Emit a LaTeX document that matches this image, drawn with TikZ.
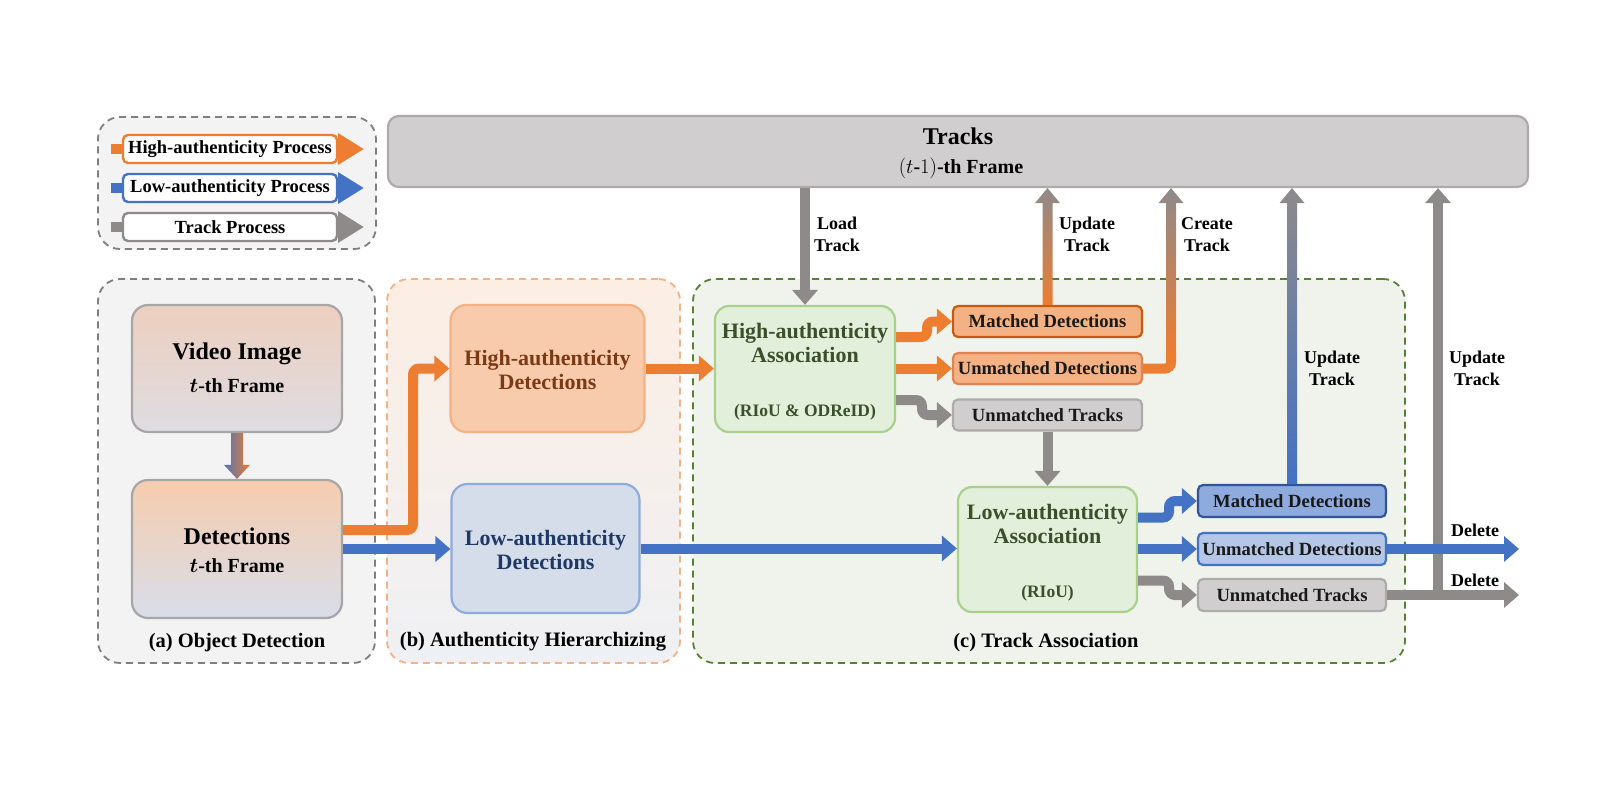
\documentclass[tikz,border=0pt]{standalone}
\usepackage{fontspec}
\setmainfont{Liberation Serif}
\usetikzlibrary{arrows.meta,calc}
\definecolor{org}{HTML}{ED7D31}
\definecolor{blu}{HTML}{4472C4}
\definecolor{gry}{HTML}{8E8A8A}
\definecolor{trk}{HTML}{D0CECE}
\definecolor{trkb}{HTML}{AEAAAA}
\definecolor{pgray}{HTML}{7F7F7F}
\definecolor{pbor}{HTML}{F4B183}
\definecolor{pgrn}{HTML}{548235}
\definecolor{brn}{HTML}{7A3A14}
\definecolor{dblu}{HTML}{203864}
\definecolor{dgrn}{HTML}{3A4F2A}
\definecolor{pafill}{HTML}{F3F3F3}
\definecolor{pbtop}{HTML}{FCEEE3}
\definecolor{pbbot}{HTML}{EFF0F4}
\definecolor{pcfill}{HTML}{F0F3EC}
\definecolor{vidtop}{HTML}{EDCFBE}
\definecolor{vidbot}{HTML}{DEDCE2}
\definecolor{dettop}{HTML}{F6CCAE}
\definecolor{detbot}{HTML}{D8DEEA}
\definecolor{hadfill}{HTML}{F8CBAD}
\definecolor{ladfill}{HTML}{D5DDEB}
\definecolor{ladbor}{HTML}{8FAADC}
\definecolor{assfill}{HTML}{E2EFDA}
\definecolor{assbor}{HTML}{A9D18E}
\definecolor{omfill}{HTML}{F4B183}
\definecolor{ombor}{HTML}{C55A11}
\definecolor{oubor}{HTML}{DD8452}
\definecolor{bmfill}{HTML}{8FAADC}
\definecolor{bmbor}{HTML}{2F5597}
\definecolor{bufill}{HTML}{B4C7E7}
\newcommand\gradup[3]{%
  \shade[top color=gry,bottom color=#3]
    ($(#1)+(-5,0)$) -- ($(#2)+(-5,15)$) -- ($(#2)+(-12.5,15)$) -- (#2) --
    ($(#2)+(12.5,15)$) -- ($(#2)+(5,15)$) -- ($(#1)+(5,0)$) -- cycle;}
\newcommand\tth{{\boldmath$t$}-$\mathbf{th}$}
\begin{document}
\begin{tikzpicture}[x=1pt,y=-1pt,
  flow/.style={line width=10pt,-{Triangle[width=25pt,length=15pt]},rounded corners=6pt},
  oflow/.style={flow,draw=org},
  bflow/.style={flow,draw=blu},
  gflow/.style={flow,draw=gry},
  legarrow/.style={line width=10pt,-{Triangle[width=30pt,length=26pt]}},
  panel/.style={rounded corners=22pt,line width=1.8pt,dash pattern=on 7pt off 5pt,inner sep=0pt},
  bigbox/.style={rounded corners=16pt,line width=2.2pt,inner sep=0pt},
  smallbox/.style={rounded corners=5pt,line width=2.2pt,inner sep=0pt,
    minimum width=189pt,minimum height=31pt,
    font=\fontsize{18.6}{22}\selectfont\bfseries,text=black!90},
  legbox/.style={rounded corners=5pt,line width=2.4pt,fill=white,inner sep=0pt,
    minimum width=214pt,minimum height=28pt,font=\fontsize{18.5}{22}\selectfont\bfseries},
  lbl/.style={align=center,font=\fontsize{18}{22}\selectfont\bfseries,inner sep=0pt},
  plbl/.style={font=\fontsize{20.5}{24}\selectfont\bfseries,inner sep=0pt},
  big/.style={font=\fontsize{24}{28}\selectfont\bfseries,inner sep=0pt},
  mid/.style={font=\fontsize{22}{26}\selectfont\bfseries,inner sep=0pt},
  sub/.style={font=\fontsize{20}{23}\selectfont\bfseries,inner sep=0pt},
  subs/.style={font=\fontsize{17.5}{21}\selectfont\bfseries,inner sep=0pt},
]
\useasboundingbox (0,0) rectangle (1600,800);
\fill[white] (0,0) rectangle (1600,800);

% ---------- panels ----------
\node[panel,draw=pgray,fill=pafill,minimum width=278pt,minimum height=132pt] (leg) at (237,183) {};
\node[panel,draw=pgray,fill=pafill,minimum width=277pt,minimum height=384pt] (pa) at (236.5,471) {};
\node[panel,draw=pbor,top color=pbtop,bottom color=pbbot,minimum width=293pt,minimum height=384pt] (pb) at (533.5,471) {};
\node[panel,draw=pgrn,fill=pcfill,minimum width=712pt,minimum height=384pt] (pc) at (1049,471) {};

\node[plbl] (la) at (237,643) {(a) Object Detection};
\node[plbl] (lb) at (533,642) {(b) Authenticity Hierarchizing};
\node[plbl] (lc) at (1046,643) {(c) Track Association};

% ---------- legend ----------
\coordinate (l1) at (230,149);
\coordinate (l2) at (230,188);
\coordinate (l3) at (230,227);
\draw[legarrow,draw=org,fill=org] ($(l1)+(-119,0)$) -- ($(l1)+(134,0)$);
\draw[legarrow,draw=blu,fill=blu] ($(l2)+(-119,0)$) -- ($(l2)+(134,0)$);
\draw[legarrow,draw=gry,fill=gry] ($(l3)+(-119,0)$) -- ($(l3)+(134,0)$);
\node[legbox,draw=org] (l1b) at (l1) {High-authenticity Process};
\node[legbox,draw=blu] (l2b) at (l2) {Low-authenticity Process};
\node[legbox,draw=gry] (l3b) at (l3) {Track Process};

% ---------- tracks ----------
\node[rounded corners=11pt,line width=2.2pt,draw=trkb,fill=trk,minimum width=1140pt,minimum height=71pt,inner sep=0pt] (tracks) at (958,151.5) {};
\node[font=\fontsize{24}{28}\selectfont\bfseries,inner sep=0pt] (trt) at (958,136) {Tracks};
\node[font=\fontsize{20}{23}\selectfont\bfseries,inner sep=0pt] (trf) at (961,168) {$(t$-$1)$-$\mathbf{th}$ Frame};

% ---------- panel (a) ----------
\node[bigbox,draw=black!35,top color=vidtop,bottom color=vidbot,minimum width=210pt,minimum height=127pt] (vid) at (237,368.5) {};
\node[big] (vidt1) at (237,354) {Video Image};
\node[sub] (vidt2) at (237,386) {\tth{} Frame};
\node[bigbox,draw=black!35,top color=dettop,bottom color=detbot,minimum width=210pt,minimum height=138pt] (det) at (237,549) {};
\node[big] (dett1) at (237,536) {Detections};
\node[sub] (dett2) at (237,566) {\tth{} Frame};
\shade[left color=blu!80!gray,right color=org]
  ($(vid.south)+(-6,0)$) -- ($(det.north)+(-6,-14)$) -- ($(det.north)+(-13,-14)$) -- (det.north) --
  ($(det.north)+(13,-14)$) -- ($(det.north)+(6,-14)$) -- ($(vid.south)+(6,0)$) -- cycle;

% ---------- panel (b) ----------
\node[bigbox,draw=pbor,fill=hadfill,minimum width=194pt,minimum height=127pt] (hadet) at (547.5,368.5) {};
\node[mid,text=brn,align=center] (hadt) at (547.5,370) {High-authenticity\\[-2pt]Detections};
\node[bigbox,draw=ladbor,fill=ladfill,minimum width=188pt,minimum height=129pt] (ladet) at (545.5,548.5) {};
\node[mid,text=dblu,align=center] (ladt) at (545.5,550) {Low-authenticity\\[-2pt]Detections};
\draw[oflow] ($(det.east)+(0,-19)$) -- (413,530) -- (413,368.5) -- (hadet.west);
\draw[bflow] (det.east) -- (det.east -| ladet.west);

% ---------- panel (c) ----------
\node[bigbox,rounded corners=14pt,draw=assbor,fill=assfill,minimum width=180pt,minimum height=126pt] (hass) at (805,369) {};
\node[mid,text=dgrn,align=center] (hasst) at (805,342.5) {High-authenticity\\[-2pt]Association};
\node[subs,text=dgrn] (hasss) at (805,412) {(RIoU \& ODReID)};
\node[bigbox,rounded corners=14pt,draw=assbor,fill=assfill,minimum width=179pt,minimum height=125pt] (lass) at (1047.5,549.5) {};
\node[mid,text=dgrn,align=center] (lasst) at (1047.5,524) {Low-authenticity\\[-2pt]Association};
\node[subs,text=dgrn] (lasss) at (1047.5,593) {(RIoU)};

\node[smallbox,draw=ombor,fill=omfill] (omd) at (1047.5,321.5) {Matched Detections};
\node[smallbox,draw=oubor,fill=omfill] (oud) at (1047.5,368.5) {Unmatched Detections};
\node[smallbox,draw=trkb,fill=trk] (gut) at (1047.5,415) {Unmatched Tracks};
\node[smallbox,draw=bmbor,fill=bmfill,minimum width=188pt,minimum height=32pt] (bmd) at (1292,501) {Matched Detections};
\node[smallbox,draw=blu,fill=bufill,minimum width=188pt,minimum height=32pt] (bud) at (1292,549) {Unmatched Detections};
\node[smallbox,draw=trkb,fill=trk,minimum width=188pt,minimum height=32pt] (gut2) at (1292,595) {Unmatched Tracks};

\draw[oflow] (hadet.east) -- (hadet.east -| hass.west);
\draw[bflow] (ladet.east) -- (ladet.east -| lass.west);

\draw[oflow] ($(hass.east)+(0,-32)$) -- (927,337) -- (927,321.5) -- (omd.west);
\draw[oflow] (hass.east |- oud.west) -- (oud.west);
\draw[gflow] ($(hass.east)+(0,31)$) -- (922,400) -- (922,415) -- (gut.west);
\draw[gflow] (gut.south) -- (gut.south |- lass.north);

\draw[bflow] ($(lass.east)+(0,-32)$) -- (1169,517.5) -- (1169,501) -- (bmd.west);
\draw[bflow] (lass.east |- bud.west) -- (bud.west);
\draw[gflow] ($(lass.east)+(0,31)$) -- (1169,580.5) -- (1169,595) -- (gut2.west);

% load track
\draw[gflow] (hass.north |- tracks.south) -- (hass.north);
% update (orange)
\gradup{omd.north}{omd.north |- tracks.south}{org}
% create track
\coordinate (c1) at (1171,368.5);
\draw[org,line width=10pt,rounded corners=6pt] (oud.east) -- (c1) -- ($(c1)+(0,-14)$);
\gradup{$(c1)+(0,-13)$}{c1 |- tracks.south}{org}
% update (blue)
\gradup{bmd.north}{bmd.north |- tracks.south}{blu}
% deletes and gray update
\coordinate (dend) at (1519,0);
\coordinate (jx) at (1438,0);
\draw[gflow] (gut2.east) -- (gut2.east -| dend);
\draw[gflow] (jx |- gut2.east) -- (jx |- tracks.south);
\draw[bflow] (bud.east) -- (bud.east -| dend);

% labels
\node[lbl] (tl1) at (837,234) {Load\\Track};
\node[lbl] (tl2) at (1087,234) {Update\\Track};
\node[lbl] (tl3) at (1207,235) {Create\\Track};
\node[lbl] (tl4) at (1332,368) {Update\\Track};
\node[lbl] (tl5) at (1477,368) {Update\\Track};
\node[lbl] (tl6) at (1475,530) {Delete};
\node[lbl] (tl7) at (1475,580) {Delete};
\end{tikzpicture}
\end{document}
